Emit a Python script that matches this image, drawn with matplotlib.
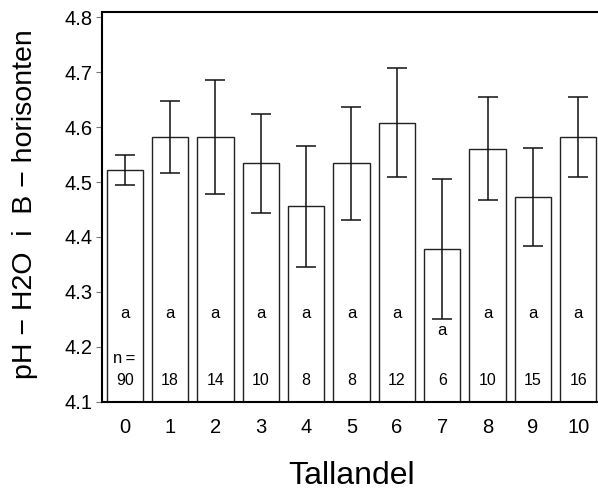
import matplotlib
matplotlib.use("Agg")
import matplotlib.pyplot as plt
import numpy as np

plt.rcParams['font.family'] = ['Liberation Sans', 'DejaVu Sans']

categories = ["0", "1", "2", "3", "4", "5", "6", "7", "8", "9", "10"]
means = [4.522, 4.582, 4.582, 4.534, 4.456, 4.534, 4.608, 4.378, 4.561, 4.473, 4.582]
errors = [0.027, 0.065, 0.103, 0.090, 0.110, 0.103, 0.099, 0.128, 0.094, 0.089, 0.072]
n_values = ["90", "18", "14", "10", "8", "8", "12", "6", "10", "15", "16"]
letters = ["a"] * 11
yticks = [4.1, 4.2, 4.3, 4.4, 4.5, 4.6, 4.7, 4.8]

fig = plt.figure(figsize=(5.98, 4.93), dpi=100)
ax = fig.add_axes([0.170, 0.185, 0.830, 0.790])

x = np.arange(len(categories))
base = 4.1
ax.bar(x, np.array(means) - base, bottom=base, width=0.8, color='white',
       edgecolor='#222222', linewidth=1.0, zorder=2)
ax.errorbar(x, means, yerr=errors, fmt='none', ecolor='#111111',
            elinewidth=1.1, capsize=7.2, capthick=1.1, zorder=3)

for i in range(len(categories)):
    ya = 4.230 if i == 7 else 4.261
    ax.text(x[i], ya, letters[i], ha='center', va='center', fontsize=12)
    ax.text(x[i], 4.139, n_values[i], ha='center', va='center', fontsize=11.5)
ax.text(x[0], 4.179, "n\u2009=", ha='center', va='center', fontsize=12)

ax.set_xlim(-0.507, 10.434)
ax.set_ylim(4.1, 4.809)
ax.set_yticks(yticks)
ax.set_yticklabels([f"{v:.1f}" for v in yticks], fontsize=14.5)
ax.set_xticks(x)
ax.set_xticklabels(categories, fontsize=14.5)
ax.tick_params(axis='x', length=0, pad=12)
ax.tick_params(axis='y', length=4.3, width=0.8, color='#777777', pad=2)

for s in ['left', 'bottom', 'top']:
    ax.spines[s].set_linewidth(1.5)
    ax.spines[s].set_color('black')
ax.spines['right'].set_visible(False)

ax.set_ylabel("pH \u2212 H2O  i  B \u2212 horisonten", fontsize=20.5)
ax.yaxis.set_label_coords(-0.128, 0.507)
ax.set_xlabel("Tallandel", fontsize=23)
ax.xaxis.set_label_coords(0.504, -0.152)

fig.savefig("out.png", dpi=100)
